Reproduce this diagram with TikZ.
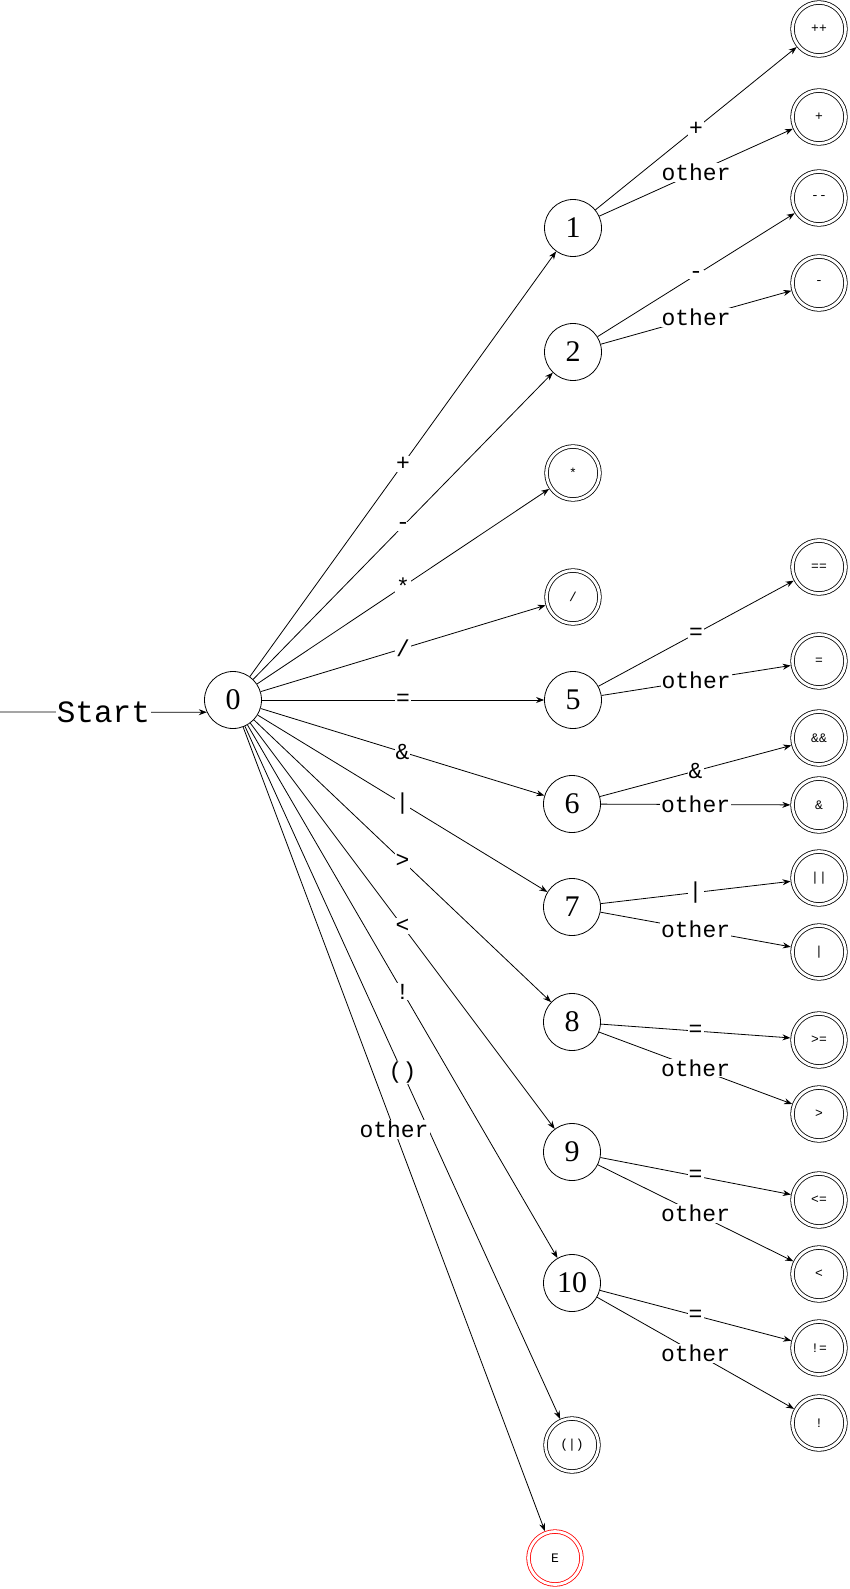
\documentclass[tikz,border=0pt]{standalone}
\usepackage{fontspec}
\setmainfont{Liberation Serif}
\newfontfamily\lblfont{Liberation Mono}
\usetikzlibrary{arrows.meta}
\begin{document}
\begin{tikzpicture}[x=1pt,y=-1pt,
  st/.style={circle,draw,line width=0.8pt,minimum size=57pt,inner sep=0pt,font=\fontsize{30}{36}\selectfont},
  accst/.style={circle,draw,double,double distance=2.8pt,line width=0.8pt,minimum size=53pt,inner sep=0pt,outer sep=2.2pt,font=\lblfont\fontsize{13}{15}\selectfont},
  elbl/.style={fill=white,inner sep=1pt,font=\lblfont\fontsize{23}{26}\selectfont},
  arr/.style={-{Stealth[length=8pt,width=6pt]},line width=0.8pt}]
\useasboundingbox (0,0) rectangle (849,1589);
% main states
\node[st] (n0) at (233,700) {0};
\node[st] (n1) at (573,228) {1};
\node[st] (n2) at (573,352) {2};
\node[accst] (star) at (573,473) {*};
\node[accst] (slash) at (573,597) {/};
\node[st] (n5) at (573,700) {5};
\node[st] (n6) at (572,804) {6};
\node[st] (n7) at (572,907) {7};
\node[st] (n8) at (572,1022) {8};
\node[st] (n9) at (572,1152) {9};
\node[st] (n10) at (572,1283) {10};
\node[accst] (paren) at (572,1445) {(|)};
\node[accst,draw=red] (err) at (555,1558) {E};
% right column
\node[accst] (pp) at (819,29) {++};
\node[accst] (p) at (819,117) {+};
\node[accst] (mm) at (819,198) {-{}-};
\node[accst] (m) at (819,283) {-};
\node[accst] (eqeq) at (819,567) {==};
\node[accst] (eq) at (819,661) {=};
\node[accst] (andand) at (819,738) {\&\&};
\node[accst] (and) at (819,805) {\&};
\node[accst] (oror) at (819,878) {||};
\node[accst] (or) at (819,952) {|};
\node[accst] (ge) at (819,1040) {>=};
\node[accst] (gt) at (819,1114) {>};
\node[accst] (le) at (819,1200) {<=};
\node[accst] (lt) at (819,1274) {<};
\node[accst] (ne) at (819,1348) {!=};
\node[accst] (nt) at (819,1423) {!};
% start
\coordinate (s) at (0,712);
\draw[arr] (s) -- node[elbl,font=\lblfont\fontsize{31}{34}\selectfont]{Start} (n0.205);
% edges from 0
\draw[arr] (n0) -- node[elbl]{+} (n1);
\draw[arr] (n0) -- node[elbl]{-} (n2);
\draw[arr] (n0) -- node[elbl]{*} (star);
\draw[arr] (n0) -- node[elbl]{/} (slash);
\draw[arr] (n0) -- node[elbl]{=} (n5);
\draw[arr] (n0) -- node[elbl]{\&} (n6);
\draw[arr] (n0) -- node[elbl]{|} (n7);
\draw[arr] (n0) -- node[elbl]{>} (n8);
\draw[arr] (n0) -- node[elbl]{<} (n9);
\draw[arr] (n0) -- node[elbl]{!} (n10);
\draw[arr] (n0) -- node[elbl]{()} (paren);
\draw[arr] (n0) -- node[elbl]{other} (err);
% second level
\draw[arr] (n1) -- node[elbl]{+} (pp);
\draw[arr] (n1) -- node[elbl]{other} (p);
\draw[arr] (n2) -- node[elbl]{-} (mm);
\draw[arr] (n2) -- node[elbl]{other} (m);
\draw[arr] (n5) -- node[elbl]{=} (eqeq);
\draw[arr] (n5) -- node[elbl]{other} (eq);
\draw[arr] (n6) -- node[elbl]{\&} (andand);
\draw[arr] (n6) -- node[elbl]{other} (and);
\draw[arr] (n7) -- node[elbl]{|} (oror);
\draw[arr] (n7) -- node[elbl]{other} (or);
\draw[arr] (n8) -- node[elbl]{=} (ge);
\draw[arr] (n8) -- node[elbl]{other} (gt);
\draw[arr] (n9) -- node[elbl]{=} (le);
\draw[arr] (n9) -- node[elbl]{other} (lt);
\draw[arr] (n10) -- node[elbl]{=} (ne);
\draw[arr] (n10) -- node[elbl]{other} (nt);
\end{tikzpicture}
\end{document}
